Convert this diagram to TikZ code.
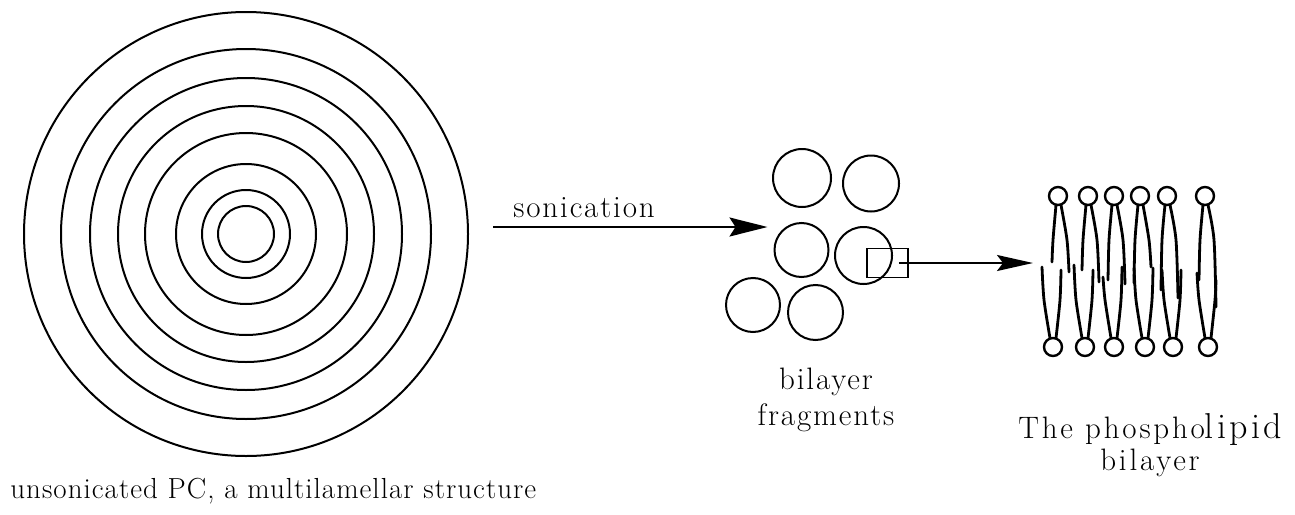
\documentclass[tikz,border=0pt]{standalone}
\usepackage{fontspec}
\setmainfont{Latin Modern Roman}
\usetikzlibrary{arrows.meta,positioning}

\tikzset{
  lamella/.style={line width=1pt},
  vesicle/.style={circle, draw, line width=1pt, minimum size=#1, inner sep=0pt},
  zoombox/.style={draw, line width=0.9pt, minimum width=20.5pt, minimum height=14.5pt, inner sep=0pt},
  lbl/.style={font=\fontsize{15.5}{18}\selectfont\addfontfeature{LetterSpace=6}, inner sep=0pt},
  tail/.style={line width=1.4pt, line cap=round},
  polar/.style={line width=1.2pt},
  sonarrow/.style={line width=1pt, -{Stealth[length=19pt,width=9.5pt,inset=3pt]}},
}

\begin{document}
\begin{tikzpicture}[x=0.5pt,y=-0.5pt]
    \useasboundingbox (0,0) rectangle (1295,514);

    % multilamellar liposome
    \coordinate (ml) at (246,234);
    \foreach \r in {222,185,156,128,101,70,44,28}
        \draw[lamella] (ml) circle[radius=\r];
    \node[lbl, font=\fontsize{14.5}{18}\selectfont\addfontfeature{LetterSpace=3.5}, anchor=base west] (capt) at (10,498) {unsonicated PC, a multilamellar structure};

    % sonication step
    \coordinate (son0) at (493,227);
    \node[lbl, anchor=base west] (son) at (513,217) {sonication};

    % small vesicles after sonication
    \node[vesicle=29pt] (f1) at (802,178) {};
    \node[vesicle=28pt] (f2) at (871,183.5) {};
    \node[vesicle=27pt] (f3) at (801.5,250) {};
    \node[vesicle=28.5pt] (f4) at (863.5,255.5) {};
    \node[vesicle=27pt] (f5) at (753,305) {};
    \node[vesicle=27.5pt] (f6) at (815.5,312.5) {};
    \node[lbl, align=center, anchor=north] (fraglbl) at (826,368) {bilayer\\fragments};

    \draw[sonarrow] (son0) -- ([xshift=-3pt]f3.west |- son0);

    % enlarged piece of one fragment
    \node[zoombox] (zoom) at (887.5,263) {};
    \coordinate (bl) at (1033,264);
    \draw[sonarrow, -{Stealth[length=18pt,width=8pt,inset=3pt]}] ([xshift=-5pt]zoom.east) -- (bl |- zoom.east);

    % phospholipid bilayer: head groups and tails
    \foreach \xt/\xb/\a/\b/\c/\d in {1058/1053/262/272/267/270,
                                     1088/1085/270/282/265/270,
                                     1114/1114/280/284/277/267,
                                     1140/1145/283/267/268/268,
                                     1167/1173/290/298/270/270,
                                     1205/1208/280/307/273/280}{
        \draw[polar] (\xt,196) circle[radius=9];
        \draw[polar] (\xb,347) circle[radius=9];
        \draw[tail] plot[smooth] coordinates {(\xt-2,205) (\xt-5,240) (\xt-6,\a)};
        \draw[tail] plot[smooth] coordinates {(\xt+3,205) (\xt+9,240) (\xt+11,\b)};
        \draw[tail] plot[smooth] coordinates {(\xb-3,338) (\xb-9,300) (\xb-11,\c)};
        \draw[tail] plot[smooth] coordinates {(\xb+3,338) (\xb+7,300) (\xb+8,\d)};
    }
    \node[lbl, font=\fontsize{15.5}{16}\selectfont\addfontfeature{LetterSpace=9}, align=center, anchor=north] (bilbl) at (1150,413)
        {The phospho{\fontsize{18}{16}\selectfont lipid}\\bilayer};
\end{tikzpicture}
\end{document}
